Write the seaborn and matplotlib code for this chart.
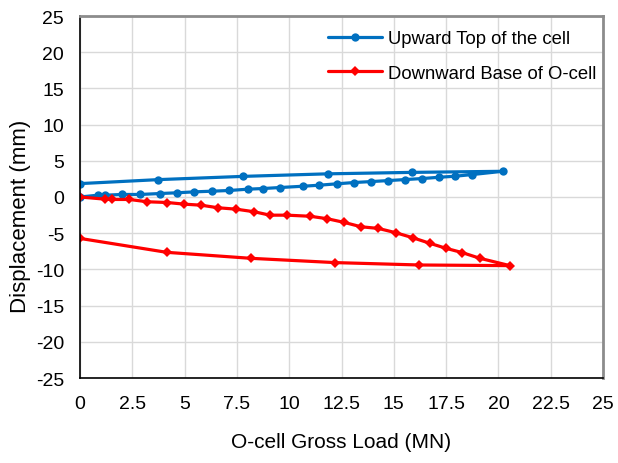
import matplotlib
matplotlib.use("Agg")
import matplotlib.pyplot as plt
import matplotlib.ticker as mticker
import seaborn as sns

# O-cell load test: gross load (MN) vs displacement (mm)
upward_load = [0, 0.85, 1.2, 2.0, 2.87, 3.82, 4.62, 5.46, 6.29, 7.14, 8.02, 8.76,
               9.56, 10.68, 11.44, 12.27, 13.11, 13.91, 14.74, 15.54, 16.36, 17.18,
               17.93, 18.75, 20.2, 15.86, 11.84, 7.81, 3.74, 0]
upward_disp = [0, 0.25, 0.25, 0.35, 0.35, 0.48, 0.58, 0.71, 0.8, 0.9, 1.08, 1.17,
               1.31, 1.49, 1.63, 1.82, 2.0, 2.13, 2.27, 2.41, 2.55, 2.73,
               2.87, 3.1, 3.55, 3.4, 3.2, 2.85, 2.4, 1.85]

downward_load = [0, 1.2, 1.52, 2.36, 3.22, 4.17, 4.99, 5.78, 6.61, 7.46, 8.33, 9.08,
                 9.91, 11.0, 11.82, 12.63, 13.43, 14.26, 15.09, 15.9, 16.73, 17.5,
                 18.27, 19.12, 20.55, 16.22, 12.19, 8.17, 4.14, 0]
downward_disp = [0, -0.3, -0.34, -0.34, -0.66, -0.76, -0.99, -1.13, -1.49, -1.68, -2.04, -2.51,
                 -2.51, -2.66, -3.0, -3.51, -4.11, -4.34, -4.93, -5.62, -6.4, -7.09,
                 -7.68, -8.47, -9.48, -9.39, -9.06, -8.47, -7.64, -5.72]

series_labels = ["Upward Top of the cell", "Downward Base of O-cell"]
x_ticks = [0, 2.5, 5, 7.5, 10, 12.5, 15, 17.5, 20, 22.5, 25]
y_ticks = [-25, -20, -15, -10, -5, 0, 5, 10, 15, 20, 25]

sns.set_style("white")
plt.rcParams["font.family"] = ["Liberation Sans", "DejaVu Sans"]
plt.rcParams["text.color"] = "black"
plt.rcParams["axes.labelcolor"] = "black"

fig = plt.figure(figsize=(6.18, 4.64), dpi=100)
ax = fig.add_axes([80 / 618, 85 / 464, 523 / 618, 362 / 464])

sns.lineplot(x=upward_load, y=upward_disp, sort=False, ax=ax, color="#0070C0",
             linewidth=2.3, marker="o", markersize=6, markeredgewidth=0,
             label=series_labels[0], estimator=None)
sns.lineplot(x=downward_load, y=downward_disp, sort=False, ax=ax, color="#FF0000",
             linewidth=2.3, marker="D", markersize=5, markeredgewidth=0,
             label=series_labels[1], estimator=None)

ax.set_xlim(0, 25)
ax.set_ylim(-25, 25)
ax.set_xticks(x_ticks)
ax.set_yticks(y_ticks)
ax.xaxis.set_major_formatter(mticker.FormatStrFormatter("%g"))
ax.yaxis.set_major_formatter(mticker.FormatStrFormatter("%g"))
ax.grid(True, color="#d9d9d9", linewidth=1.0)
ax.set_axisbelow(True)

ax.tick_params(axis="both", direction="out", length=4.5, width=1, color="black",
               labelsize=14, labelcolor="black", pad=7)
ax.tick_params(axis="x", pad=8)

for side in ("left", "bottom"):
    ax.spines[side].set_color("black")
    ax.spines[side].set_linewidth(1.2)
for side in ("top", "right"):
    ax.spines[side].set_color("#8c8c8c")
    ax.spines[side].set_linewidth(2.0)

ax.set_xlabel("O-cell Gross Load (MN)", fontsize=15, labelpad=14, color="black")
ax.set_ylabel("Displacement (mm)", fontsize=16, color="black")
ax.yaxis.set_label_coords(-0.094, 0.45)

leg = ax.legend(loc="upper left", bbox_to_anchor=(236 / 523, 0.994), frameon=False,
                fontsize=13.3, handlelength=2.9, handletextpad=0.35, labelspacing=0.95,
                borderaxespad=0.25)
for txt in leg.get_texts():
    txt.set_color("black")

fig.savefig("out.png", dpi=100)
